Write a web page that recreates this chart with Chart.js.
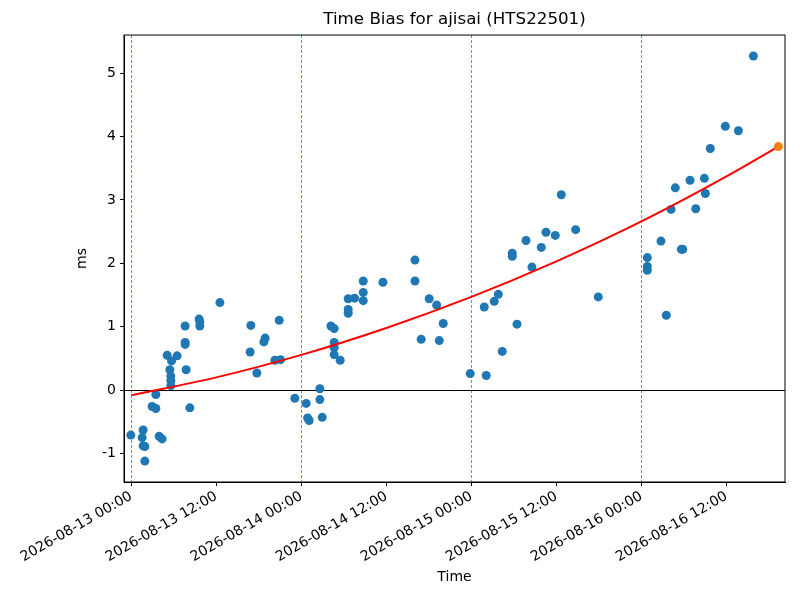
<!DOCTYPE html>
<html>
<head>
<meta charset="utf-8">
<script src="https://cdn.jsdelivr.net/npm/chart.js@4.4.1/dist/chart.umd.min.js"></script>
<style>
  body { margin: 0; background: #fff; }
</style>
</head>
<body>
<canvas id="biasChart" width="800" height="600"></canvas>
<script>
// hours since 2026-08-13 00:00
const timeHours = [
  -0.06, 1.68, 1.54, 1.68, 1.92, 1.92, 3.47, 2.95, 3.47, 3.94, 4.36, 5.07, 5.69, 6.48, 5.45, 5.59, 5.59, 5.59,
  7.61, 7.61, 7.61, 7.75, 8.27, 9.58, 9.68, 9.68, 12.51, 16.88, 16.78, 17.73, 18.90, 18.72, 20.88, 20.27, 21.07,
  23.09, 24.69, 24.89, 25.11, 26.62, 26.62, 26.95, 28.18, 28.64, 28.64, 28.64, 28.64, 29.49, 30.62, 30.62, 30.62,
  31.52, 32.74, 32.74, 32.74, 35.52, 40.04, 40.04, 42.05, 43.10, 44.03, 40.92, 43.47, 47.84, 50.10, 49.82, 51.23,
  51.80, 52.36, 54.44, 53.77, 53.77, 55.71, 56.55, 57.87, 58.53, 59.84, 60.69, 62.72, 65.91, 72.83, 72.83, 72.83,
  75.51, 74.76, 77.63, 77.83, 76.18, 79.66, 76.78, 78.86, 80.88, 81.02, 81.72, 83.84, 85.68, 87.80
]
const biasMs = [
  -0.71, -0.63, -0.75, -0.88, -0.89, -1.12, -0.07, -0.26, -0.29, -0.73, -0.77, 0.55, 0.46, 0.54, 0.32, 0.22, 0.15, 0.07,
  1.01, 0.75, 0.72, 0.32, -0.28, 1.12, 1.01, 1.08, 1.38, 1.02, 0.60, 0.27, 0.82, 0.76, 1.10, 0.47, 0.48,
  -0.13, -0.21, -0.44, -0.48, 0.02, -0.15, -0.43, 1.01, 0.97, 0.75, 0.67, 0.56, 0.47, 1.44, 1.27, 1.21,
  1.45, 1.72, 1.54, 1.41, 1.70, 2.05, 1.72, 1.44, 1.34, 1.05, 0.80, 0.78, 0.26, 0.23, 1.31, 1.40,
  1.51, 0.61, 1.04, 2.16, 2.11, 2.36, 1.94, 2.25, 2.49, 2.44, 3.08, 2.53, 1.47, 2.09, 1.95, 1.89,
  1.18, 2.35, 2.22, 2.22, 2.85, 2.86, 3.19, 3.31, 3.34, 3.10, 3.81, 4.16, 4.09, 5.27
]

// fitted curve
const fitHours = [0, 12, 24, 36, 48, 60, 72, 84, 91.32]
const fitMs = [-0.08, 0.20, 0.555, 0.98, 1.47, 2.03, 2.66, 3.37, 3.84]

// predicted point (orange)
const predHours = [91.32]
const predMs = [3.84]

const tickHours = [0, 12, 24, 36, 48, 60, 72, 84]
const tickLabels = [
  '2026-08-13 00:00', '2026-08-13 12:00', '2026-08-14 00:00', '2026-08-14 12:00',
  '2026-08-15 00:00', '2026-08-15 12:00', '2026-08-16 00:00', '2026-08-16 12:00'
]
const yTicks = [-1, 0, 1, 2, 3, 4, 5]
const dayLines = [0, 24, 48, 72]

Chart.defaults.font.family = 'DejaVu Sans'
Chart.defaults.color = '#000'

// dashed day lines, zero line and the box around the axes
const framePlugin = {
  id: 'frame',
  beforeDatasetsDraw(chart) {
    const { ctx, chartArea: a, scales: { x, y } } = chart
    ctx.save()
    ctx.lineWidth = 1
    ctx.strokeStyle = 'rgba(31,119,180,0.75)'
    ctx.setLineDash([3, 2])
    dayLines.forEach(h => {
      const px = Math.round(x.getPixelForValue(h)) + 0.5
      ctx.beginPath()
      ctx.moveTo(px, a.top)
      ctx.lineTo(px, a.bottom)
      ctx.stroke()
    })
    ctx.setLineDash([])
    ctx.strokeStyle = '#000'
    ctx.lineWidth = 1
    const py = Math.round(y.getPixelForValue(0)) + 0.5
    ctx.beginPath()
    ctx.moveTo(a.left, py)
    ctx.lineTo(a.right, py)
    ctx.stroke()
    ctx.restore()
  },
  afterDraw(chart) {
    const { ctx, chartArea: a } = chart
    ctx.save()
    ctx.strokeStyle = '#000'
    ctx.lineWidth = 1
    ctx.strokeRect(a.left, a.top, a.right - a.left, a.bottom - a.top)
    ctx.restore()
  }
}

new Chart(document.getElementById('biasChart'), {
  type: 'scatter',
  data: {
    datasets: [
      {
        label: 'bias',
        data: timeHours.map((h, i) => ({ x: h, y: biasMs[i] })),
        backgroundColor: '#1f77b4',
        borderWidth: 0,
        pointRadius: 4.5,
        order: 3
      },
      {
        type: 'line',
        label: 'fit',
        data: fitHours.map((h, i) => ({ x: h, y: fitMs[i] })),
        borderColor: '#ff0000',
        borderWidth: 2,
        pointRadius: 0,
        cubicInterpolationMode: 'monotone',
        fill: false,
        order: 2
      },
      {
        label: 'prediction',
        data: predHours.map((h, i) => ({ x: h, y: predMs[i] })),
        backgroundColor: '#ff7f0e',
        borderWidth: 0,
        pointRadius: 4.5,
        order: 1
      }
    ]
  },
  options: {
    responsive: false,
    animation: false,
    devicePixelRatio: 1,
    layout: { padding: { left: 70, right: 15, top: 0, bottom: 0 } },
    plugins: {
      legend: { display: false },
      tooltip: { enabled: false },
      title: {
        display: true,
        text: 'Time Bias for ajisai (HTS22501)',
        fullSize: false,
        color: '#000',
        font: { size: 16.7, weight: 'normal' },
        padding: { top: 10, bottom: 5 }
      }
    },
    scales: {
      x: {
        type: 'linear',
        min: -1.02,
        max: 92.26,
        afterBuildTicks: s => { s.ticks = tickHours.map(v => ({ value: v })) },
        afterFit: s => { s.height = 118 },
        ticks: {
          autoSkip: false,
          maxRotation: 30,
          minRotation: 30,
          padding: 2,
          font: { size: 14 },
          callback: v => tickLabels[tickHours.indexOf(v)]
        },
        grid: { drawOnChartArea: false, color: '#000', tickLength: 4 },
        border: { color: '#000' },
        title: { display: true, text: 'Time', font: { size: 14 }, padding: { top: 4, bottom: 14 } }
      },
      y: {
        min: -1.45,
        max: 5.6,
        afterBuildTicks: s => { s.ticks = yTicks.map(v => ({ value: v })) },
        afterFit: s => { s.width = 54 },
        ticks: { font: { size: 14 }, padding: 4 },
        grid: { drawOnChartArea: false, color: '#000', tickLength: 4 },
        border: { color: '#000' },
        title: { display: true, text: 'ms', font: { size: 14 }, padding: 4 }
      }
    }
  },
  plugins: [framePlugin]
})
</script>
</body>
</html>
